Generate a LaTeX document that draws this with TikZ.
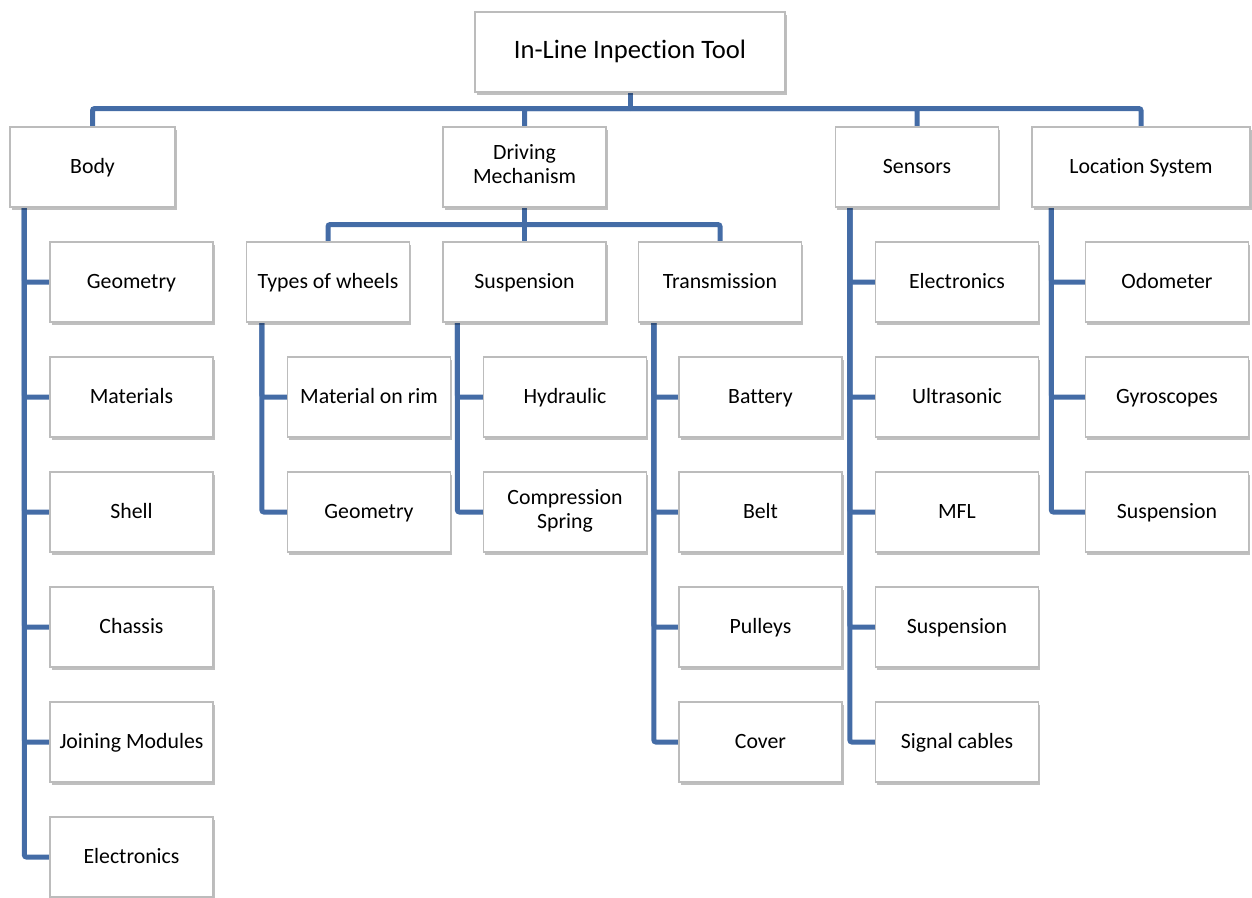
\documentclass[tikz,border=0pt]{standalone}
\usepackage{fontspec}
\setmainfont{Carlito}[Ligatures=CommonOff]
\usetikzlibrary{shadows,backgrounds}
\definecolor{lnk}{RGB}{68,108,166}
\definecolor{bord}{RGB}{188,188,188}
\newcommand\boxstrut{\rule[-6.5pt]{0pt}{26.5pt}}
\begin{document}
\begin{tikzpicture}[x=1pt,y=-1pt,
  box/.style={draw=bord,line width=1.2pt,fill=white,minimum width=163pt,minimum height=80pt,
    inner sep=2pt,align=center,font=\fontsize{21.8}{24}\selectfont,execute at begin node=\boxstrut,
    drop shadow={shadow xshift=1.5pt,shadow yshift=-2.5pt,opacity=0.25,fill=black}},
  link/.style={draw=lnk,line width=5pt,rounded corners=2pt}]
\useasboundingbox (0,0) rectangle (1252,897);
% level 0/1
\node[box,minimum width=310pt,font=\fontsize{26.6}{30}\selectfont] (root) at (630,52) {In-Line Inpection Tool};
\node[box,minimum width=165pt] (body) at (92.5,167) {Body};
\node[box] (drive) at (524.5,167) {Driving\\Mechanism\boxstrut};
\node[box] (sens) at (917,167) {Sensors};
\node[box,minimum width=218pt] (loc) at (1141,167) {Location System};
% body children
\foreach \n/\y/\t in {b1/282/Geometry,b2/397/Materials,b3/512/Shell,b4/627/Chassis,b5/742/Joining Modules,b6/857/Electronics}
  \node[box] (\n) at (131.5,\y) {\t};
% driving mechanism children
\node[box] (types) at (328,282) {Types of wheels};
\node[box] (susp) at (524.5,282) {Suspension};
\node[box] (trans) at (720,282) {Transmission};
\node[box] (t1) at (369,397) {Material on rim};
\node[box] (t2) at (369,512) {Geometry};
\node[box] (s1) at (565,397) {Hydraulic};
\node[box] (s2) at (565,512) {Compression\\Spring\boxstrut};
\foreach \n/\y/\t in {r1/397/Battery,r2/512/Belt,r3/627/Pulleys,r4/742/Cover}
  \node[box] (\n) at (760.5,\y) {\t};
% sensors children
\foreach \n/\y/\t in {e1/282/Electronics,e2/397/Ultrasonic,e3/512/MFL,e4/627/Suspension,e5/742/Signal cables}
  \node[box] (\n) at (957,\y) {\t};
% location children
\foreach \n/\y/\t in {l1/282/Odometer,l2/397/Gyroscopes,l3/512/Suspension}
  \node[box] (\n) at (1167,\y) {\t};
% connectors
\begin{scope}[on background layer]
  \draw[link] (root.south) -- ++(0,16) coordinate (bus);
  \foreach \c in {body,drive,sens,loc} \draw[link] (bus) -| (\c.north);
  \draw[link] (drive.south) -- ++(0,17) coordinate (dbus);
  \foreach \c in {types,susp,trans} \draw[link] (dbus) -| (\c.north);
  \foreach \c in {b1,b2,b3,b4,b5,b6} \draw[link] ([xshift=15pt]body.south west) |- (\c.west);
  \foreach \c in {t1,t2} \draw[link] ([xshift=16pt]types.south west) |- (\c.west);
  \foreach \c in {s1,s2} \draw[link] ([xshift=15pt]susp.south west) |- (\c.west);
  \foreach \c in {r1,r2,r3,r4} \draw[link] ([xshift=16pt]trans.south west) |- (\c.west);
  \foreach \c in {e1,e2,e3,e4,e5} \draw[link] ([xshift=15pt]sens.south west) |- (\c.west);
  \foreach \c in {l1,l2,l3} \draw[link] ([xshift=20pt]loc.south west) |- (\c.west);
\end{scope}
\end{tikzpicture}
\end{document}
